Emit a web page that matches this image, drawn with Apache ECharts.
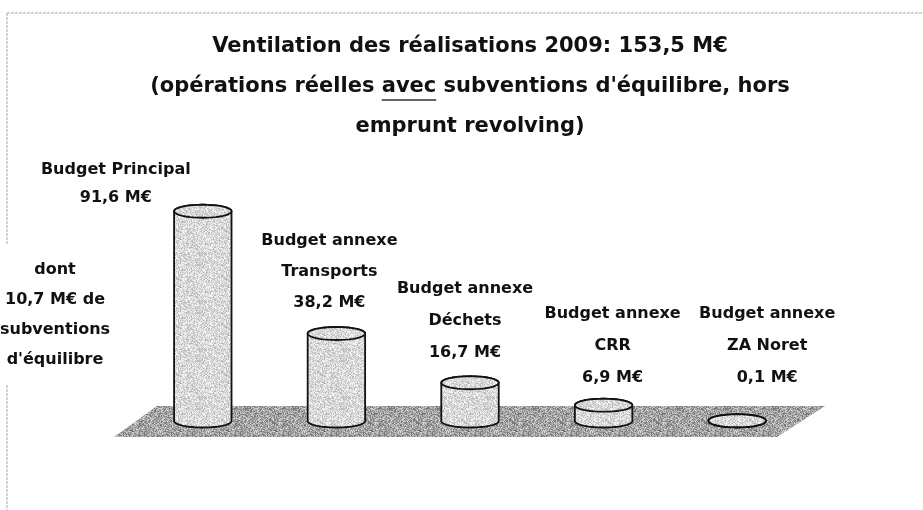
<!DOCTYPE html>
<html lang="fr">
<head>
<meta charset="UTF-8">
<title>Ventilation des réalisations 2009</title>
<style>
  html, body { margin: 0; padding: 0; background: #fff; }
  #chart { width: 923px; height: 510px; }
</style>
<script src="https://cdn.jsdelivr.net/npm/echarts@6/dist/echarts.min.js"></script>
</head>
<body>
<div id="chart"></div>
<script>
// data
var categories = ['Budget Principal', 'Budget annexe\nTransports', 'Budget annexe\nDéchets', 'Budget annexe\nCRR', 'Budget annexe\nZA Noret'];
var values = [91.6, 38.2, 16.7, 6.9, 0.1];
var valueLabels = ['91,6 M€', '38,2 M€', '16,7 M€', '6,9 M€', '0,1 M€'];
var titleLines = ['Ventilation des réalisations 2009: 153,5 M€', "(opérations réelles avec subventions d'équilibre, hors", 'emprunt revolving)'];
var noteLines = ['dont', '10,7 M€ de', 'subventions', "d'équilibre"];

var FONT = '"DejaVu Sans", Verdana, sans-serif';
var TITLE_FONT = 'bold 21px ' + FONT;
var LABEL_FONT = 'bold 16px ' + FONT;

// grainy fill, like the scanned print (fixed hash, only a texture)
function texture(base, amp) {
  var n = 48;
  var c = document.createElement('canvas');
  c.width = n; c.height = n;
  var ctx = c.getContext('2d');
  var img = ctx.createImageData(n, n);
  for (var y = 0; y < n; y++) {
    for (var x = 0; x < n; x++) {
      var h = Math.sin(x * 12.9898 + y * 78.233) * 43758.5453;
      h = h - Math.floor(h);
      var v = Math.round(base + (h - 0.5) * amp);
      var k = (y * n + x) * 4;
      img.data[k] = v; img.data[k + 1] = v; img.data[k + 2] = v; img.data[k + 3] = 255;
    }
  }
  ctx.putImageData(img, 0, 0);
  return { image: c, repeat: 'repeat' };
}
var barFill = texture(216, 70);
var floorFill = texture(162, 110);

function ellipsePoints(cx, cy, rx, ry, from, to) {
  var pts = [];
  var n = 40;
  for (var i = 0; i <= n; i++) {
    var a = from + (to - from) * i / n;
    pts.push([cx + rx * Math.cos(a), cy + ry * Math.sin(a)]);
  }
  return pts;
}

// label block placement (dx from bar centre, y of first line, line height)
var labelDx = [-87, -7, -5, 9, 30];
var labelY = [170, 241, 289, 314, 314];
var labelLH = [28, 31, 32, 32, 32];

var chart = echarts.init(document.getElementById('chart'));

var measure = document.createElement('canvas').getContext('2d');
measure.font = TITLE_FONT;
var line2W = measure.measureText(titleLines[1]).width;
var preW = measure.measureText('(opérations réelles ').width;
var avecW = measure.measureText('avec').width;
var titleX = 470;

var option = {
  animation: false,
  backgroundColor: '#fff',
  grid: { left: 136, right: 119, top: 192, bottom: 89 },
  xAxis: { type: 'category', data: categories, show: false },
  yAxis: { type: 'value', min: 0, max: 100, show: false },
  graphic: [
    { type: 'line', shape: { x1: 7, y1: 13, x2: 923, y2: 13 }, style: { stroke: '#a8a8a8', lineWidth: 1, lineDash: [3, 1] } },
    { type: 'line', shape: { x1: 7, y1: 13, x2: 7, y2: 245 }, style: { stroke: '#a8a8a8', lineWidth: 1, lineDash: [3, 1] } },
    { type: 'line', shape: { x1: 7, y1: 385, x2: 7, y2: 510 }, style: { stroke: '#a8a8a8', lineWidth: 1, lineDash: [3, 1] } },
    { type: 'text', x: titleX, y: 47, style: { text: titleLines[0], font: TITLE_FONT, fill: '#111', align: 'center', verticalAlign: 'middle' } },
    { type: 'text', x: titleX, y: 87, style: { text: titleLines[1], font: TITLE_FONT, fill: '#111', align: 'center', verticalAlign: 'middle' } },
    { type: 'text', x: titleX, y: 127, style: { text: titleLines[2], font: TITLE_FONT, fill: '#111', align: 'center', verticalAlign: 'middle' } },
    { type: 'line', shape: { x1: titleX - line2W / 2 + preW, y1: 100, x2: titleX - line2W / 2 + preW + avecW, y2: 100 }, style: { stroke: '#333', lineWidth: 1.5 } },
    { type: 'text', x: 55, y: 255, style: { text: noteLines.join('\n'), font: LABEL_FONT, fill: '#111', align: 'center', verticalAlign: 'top', lineHeight: 30 } }
  ],
  series: [
    {
      // the grey floor under the cylinders
      type: 'custom',
      z: 1,
      data: [[0, 0]],
      renderItem: function (params, api) {
        var cs = params.coordSys;
        var base = api.coord([0, 0])[1];
        return {
          type: 'polygon',
          shape: { points: [
            [cs.x + 21, base - 15], [cs.x + cs.width + 21, base - 15],
            [cs.x + cs.width - 27, base + 16], [cs.x - 22, base + 16]
          ] },
          style: { fill: floorFill, stroke: null }
        };
      }
    },
    {
      type: 'custom',
      z: 2,
      encode: { x: 0, y: 1 },
      data: values.map(function (v, i) { return [i, v]; }),
      renderItem: function (params, api) {
        var i = api.value(0);
        var b = api.coord([i, 0]);
        var t = api.coord([i, api.value(1)]);
        var rx = api.size([1, 0])[0] * 0.215;
        var ry = 6.5;
        var cx = b[0];
        var body = [[cx - rx, t[1]]]
          .concat(ellipsePoints(cx, b[1], rx, ry, Math.PI, 0))
          .concat(ellipsePoints(cx, t[1], rx, ry, 0, -Math.PI));
        var lines = categories[i].split('\n').concat(valueLabels[i]);
        return {
          type: 'group',
          children: [
            { type: 'polygon', shape: { points: body }, style: { fill: barFill, stroke: '#111', lineWidth: 1.8 } },
            { type: 'polygon', shape: { points: ellipsePoints(cx, t[1], rx, ry, 0, 2 * Math.PI) }, style: { fill: barFill, stroke: '#111', lineWidth: 1.8 } },
            { type: 'text', x: cx + labelDx[i], y: labelY[i] - labelLH[i] / 2,
              style: { text: lines.join('\n'), font: LABEL_FONT, fill: '#111', align: 'center', verticalAlign: 'top', lineHeight: labelLH[i] } }
          ]
        };
      }
    }
  ]
};
chart.setOption(option);
</script>
</body>
</html>
